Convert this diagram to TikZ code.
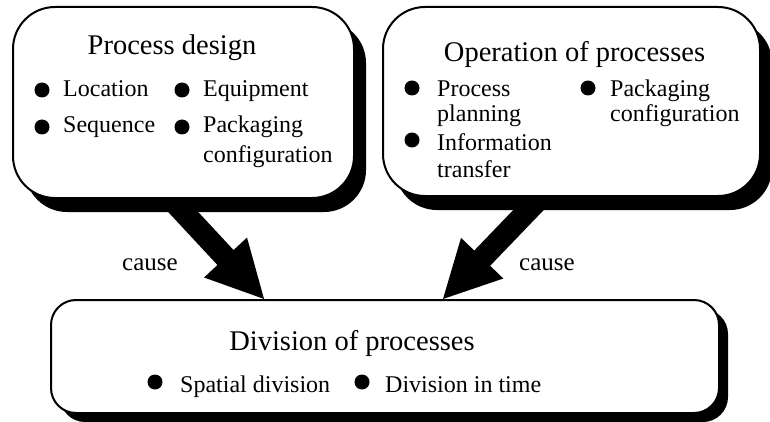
\documentclass[tikz,border=0pt]{standalone}
\usepackage{fontspec}
\setmainfont{Liberation Serif}
\usetikzlibrary{arrows.meta,shadows}
\tikzset{
 box/.style={draw=black, line width=2pt, fill=white, inner sep=0pt},
 ttl/.style={font=\fontsize{28.5}{30}\selectfont, inner sep=0pt, anchor=base},
 itm/.style={font=\fontsize{24}{25}\selectfont, inner sep=0pt, anchor=base west, align=left},
 dot/.style={circle, fill=black, minimum size=15pt, inner sep=0pt},
 bigarrow/.style={line width=22pt, -{Triangle[length=58pt,width=54pt]}},
 lbl/.style={font=\fontsize{25}{27}\selectfont, inner sep=0pt, anchor=base west},
}
\begin{document}
\begin{tikzpicture}[x=1pt,y=-1pt]
\useasboundingbox (0,0) rectangle (770,422);
% arrows (behind the boxes)
\coordinate (a1s) at (146,172);
\coordinate (a1e) at (265,300);
\coordinate (a2s) at (565,172);
\coordinate (a2e) at (442,300);
\draw[bigarrow] (a1s) -- (a1e);
\draw[bigarrow] (a2s) -- (a2e);
% boxes
\node[box, rounded corners=42pt, minimum width=341pt, minimum height=191pt,
      drop shadow={shadow xshift=12pt, shadow yshift=-14pt, fill=black, opacity=1}]
      (pd) at (183.5,102.5) {};
\node[box, rounded corners=42pt, minimum width=377pt, minimum height=189pt,
      drop shadow={shadow xshift=12pt, shadow yshift=-14pt, fill=black, opacity=1}]
      (op) at (571.5,101.5) {};
\node[box, rounded corners=25pt, minimum width=668pt, minimum height=113pt,
      drop shadow={shadow xshift=9pt, shadow yshift=-9pt, fill=black, opacity=1}]
      (dv) at (385,356.5) {};
% process design
\node[ttl] (pdt) at (172,55) {Process design};
\node[dot] (pd1d) at (42,90) {};
\node[itm] (pd1) at (63,97) {Location};
\node[dot] (pd2d) at (182,90) {};
\node[itm] (pd2) at (203,97) {Equipment};
\node[dot] (pd3d) at (42,127) {};
\node[itm] (pd3) at (63,133) {Sequence};
\node[dot] (pd4d) at (182,127) {};
\node[itm, font=\fontsize{24}{30}\selectfont] (pd4) at (203,163) {Packaging\\configuration};
% operation of processes
\node[ttl] (opt) at (574.5,62) {Operation of processes};
\node[dot] (op1d) at (412,88) {};
\node[itm] (op1) at (437,122) {Process\\planning};
\node[dot] (op2d) at (412,140) {};
\node[itm, font=\fontsize{24}{27}\selectfont] (op2) at (437,177) {Information\\transfer};
\node[dot] (op3d) at (588,88) {};
\node[itm] (op3) at (610,122) {Packaging\\configuration};
% division of processes
\node[ttl] (dvt) at (352,350) {Division of processes};
\node[dot] (dv1d) at (155,382) {};
\node[itm] (dv1) at (180,392) {Spatial division};
\node[dot] (dv2d) at (362,382) {};
\node[itm] (dv2) at (385,392) {Division in time};
% labels
\node[lbl] (c1) at (122,270) {cause};
\node[lbl] (c2) at (519,270) {cause};
\end{tikzpicture}
\end{document}
